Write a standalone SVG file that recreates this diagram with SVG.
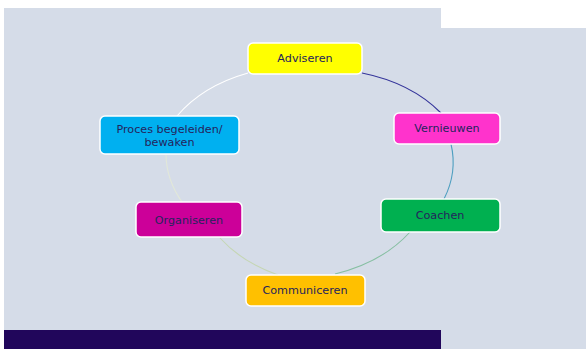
<svg xmlns="http://www.w3.org/2000/svg" width="586" height="349" viewBox="0 0 586 349">
<style>
.box{stroke:#ffffff;stroke-width:1.5}
.lbl{font-family:"DejaVu Sans",Verdana,sans-serif;font-size:11.2px;fill:#24245c;text-anchor:middle}
.c{fill:none;stroke-width:1.1}
</style>
<rect x="0" y="0" width="586" height="349" fill="#ffffff"/>
<rect x="4" y="8" width="582" height="341" fill="#d5dce8"/>
<rect x="441" y="0" width="145" height="28" fill="#ffffff"/>
<rect x="4" y="330" width="437" height="19" fill="#21065b"/>
<g id="connectors">
<path class="c" stroke="#34349a" d="M362,73 A145,106 0 0 1 441,113"/>
<path class="c" stroke="#4e9fc0" d="M451,144 A145,106 0 0 1 444,199"/>
<path class="c" stroke="#86bfa2" d="M410,232 A145,106 0 0 1 335,274"/>
<path class="c" stroke="#c5d6b4" d="M278,275 A145,106 0 0 1 220,238"/>
<path class="c" stroke="#e2e8d8" d="M182,202 A145,106 0 0 1 166,155"/>
<path class="c" stroke="#ffffff" d="M177,116 A145,106 0 0 1 248,73"/>
</g>
<g id="adviseren">
<rect class="box" x="248" y="43" width="114" height="31" rx="5" fill="#ffff00"/>
<text class="lbl" x="305" y="62">Adviseren</text>
</g>
<g id="vernieuwen">
<rect class="box" x="394" y="113" width="106" height="31" rx="5" fill="#ff33cc"/>
<text class="lbl" x="447" y="132">Vernieuwen</text>
</g>
<g id="coachen">
<rect class="box" x="381" y="199" width="119" height="33" rx="5" fill="#00b050"/>
<text class="lbl" x="440" y="219">Coachen</text>
</g>
<g id="communiceren">
<rect class="box" x="246" y="275" width="119" height="31" rx="5" fill="#ffc000"/>
<text class="lbl" x="305" y="294">Communiceren</text>
</g>
<g id="organiseren">
<rect class="box" x="136" y="202" width="106" height="35" rx="5" fill="#cc0099"/>
<text class="lbl" x="189" y="224">Organiseren</text>
</g>
<g id="proces">
<rect class="box" x="100" y="116" width="139" height="38" rx="5" fill="#00b0f0"/>
<text class="lbl" x="169.5" y="133">Proces begeleiden/</text>
<text class="lbl" x="169.5" y="146">bewaken</text>
</g>
</svg>
